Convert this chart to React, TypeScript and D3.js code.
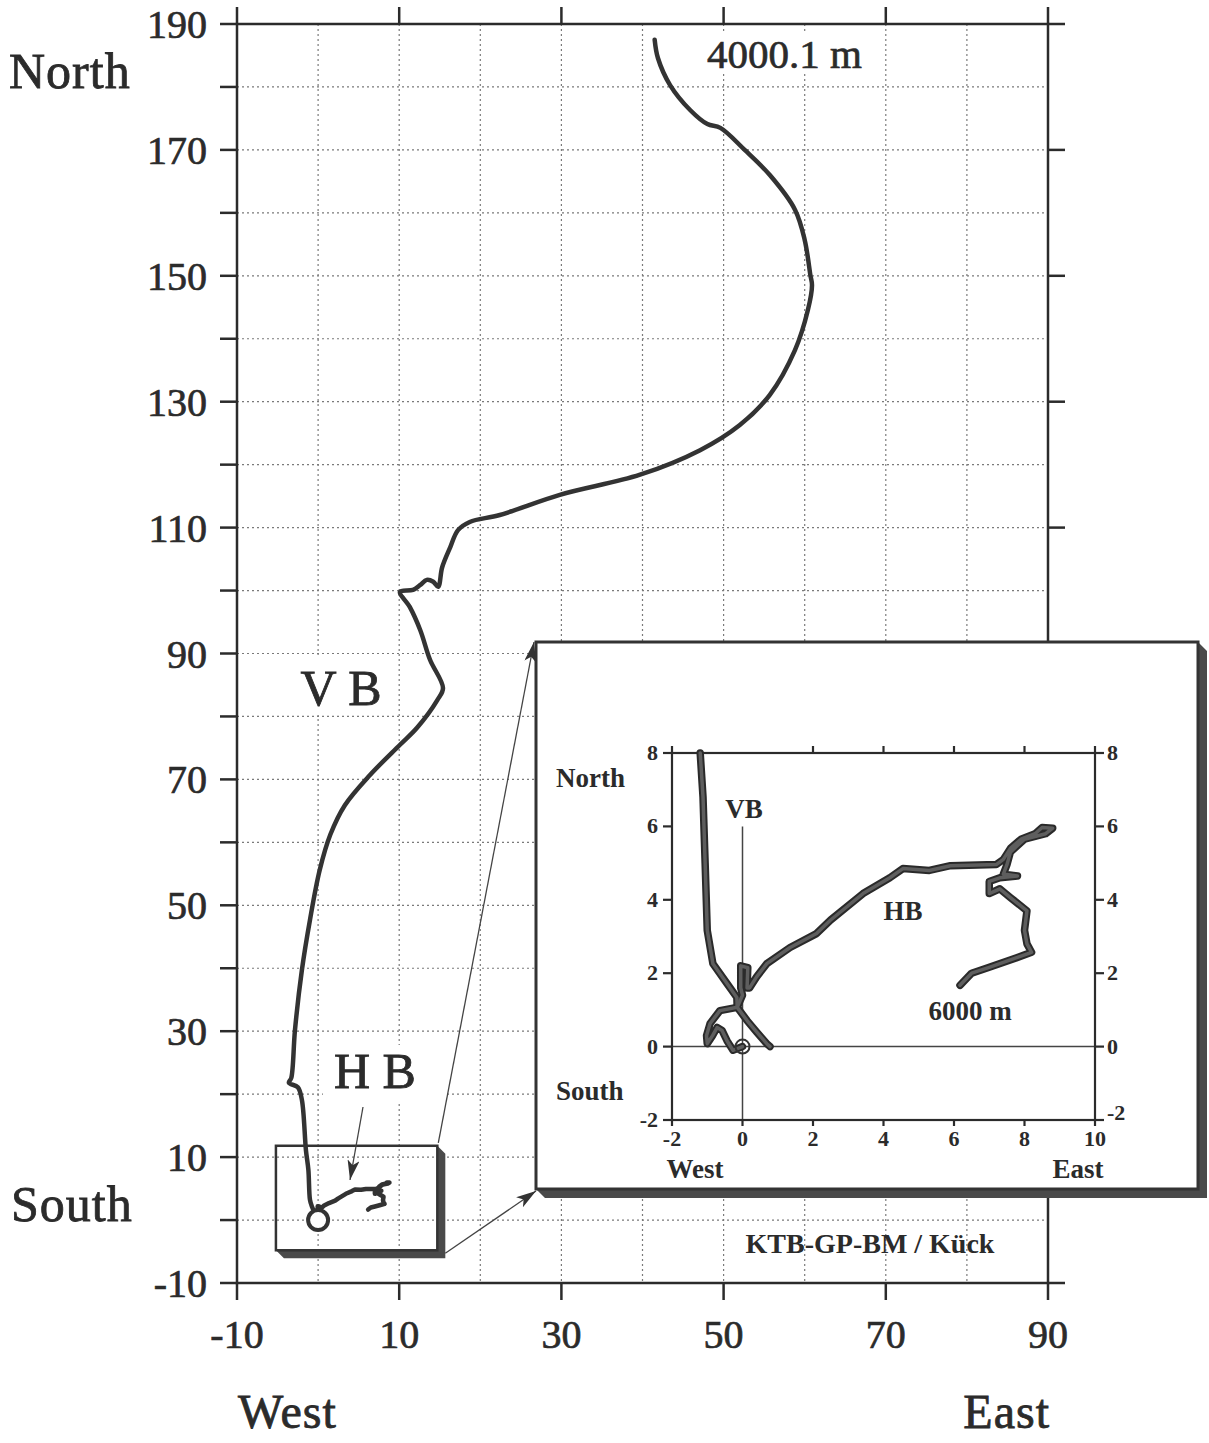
import React from 'react';
import * as d3 from 'd3';

// main plot: east offset (m) vs north offset (m)
const xLabels = [-10, 10, 30, 50, 70, 90];
const yLabels = [-10, 10, 30, 50, 70, 90, 110, 130, 150, 170, 190];
const yMinor = [0, 20, 40, 60, 80, 100, 120, 140, 160, 180];
const gridX = [0, 10, 20, 30, 40, 50, 60, 70, 80];
const gridY = [0, 10, 20, 30, 40, 50, 60, 70, 80, 90, 100, 110, 120, 130, 140, 150, 160, 170, 180];

// inset axes
const insetX = [-2, 0, 2, 4, 6, 8, 10];
const insetY = [-2, 0, 2, 4, 6, 8];

// VB trajectory down to 4000.1 m
const vbMain: [number, number][] = [
  [0, 0], [-0.75, 2.1], [-1, 3.2], [-1.2, 8], [-1.5, 11.1], [-2, 19.1], [-2.5, 21.1],
  [-3.6, 21.8], [-3.3, 22.6], [-2.85, 30.2], [-2, 39.7], [-1, 47.7], [0.2, 55.6],
  [1.5, 61.2], [3.3, 65.9], [6.4, 70.7], [10.1, 75.5], [12.2, 78.2], [14.7, 82.6],
  [15.4, 84.5], [13.8, 89], [12.6, 93.7], [11.3, 97.4], [10.1, 99.8], [11.7, 100.1],
  [12.6, 100.9], [13.4, 101.7], [14.2, 101.4], [14.8, 100.6], [15.3, 103.7],
  [16.3, 106.9], [17.25, 109.6], [18.7, 110.9], [22.4, 112], [29.8, 115.2],
  [39.7, 118.4], [47.1, 122.3], [52, 126.3], [55.7, 131.1], [58.8, 138.2],
  [60.4, 144.6], [60.9, 148.5], [60.7, 150.1], [60, 155.7], [58.8, 160.5],
  [55.7, 166], [52.6, 170], [49.6, 173.5], [48, 174.1], [45.9, 176.3],
  [43.4, 180.3], [41.9, 184.6], [41.5, 187.5],
];

// HB trajectory down to 6000 m
const hbPath: [number, number][] = [
  [0, 0], [-0.27, -0.1], [-0.44, 0.16], [-0.58, 0.44], [-0.72, 0.52], [-0.85, 0.3],
  [-1.0, 0.08], [-1.02, 0.3], [-0.92, 0.63], [-0.64, 0.98], [-0.15, 1.07], [0.0, 1.4],
  [-0.05, 1.6], [-0.05, 2.2], [0.15, 2.15], [0.13, 1.6], [0.2, 1.6], [0.4, 1.9],
  [0.69, 2.26], [1.35, 2.7], [2.1, 3.08], [2.5, 3.45], [3.42, 4.17], [4.18, 4.6],
  [4.55, 4.85], [5.3, 4.8], [5.9, 4.93], [7.2, 4.96], [7.4, 5.1], [7.6, 5.4],
  [7.9, 5.65], [8.3, 5.8], [8.5, 5.97], [8.8, 5.95], [8.6, 5.8], [8.0, 5.65],
  [7.6, 5.3], [7.5, 4.95], [7.4, 4.7], [7.8, 4.65], [7.3, 4.6], [7.0, 4.5],
  [7.0, 4.17], [7.3, 4.3], [7.6, 4.06], [8.07, 3.7], [8.0, 3.17], [8.07, 2.8],
  [8.2, 2.57], [7.8, 2.43], [7.0, 2.16], [6.5, 2.0], [6.17, 1.67],
];

// VB near the surface (inset)
const vbInset: [number, number][] = [
  [0.78, 0], [0.69, 0.08], [0.4, 0.4], [0.13, 0.71], [-0.15, 1.07], [-0.16, 1.34],
  [-0.44, 1.72], [-0.84, 2.26], [-1.0, 3.17], [-1.06, 5.0], [-1.12, 6.8], [-1.2, 8],
];

const serif = '"Liberation Serif", "Times New Roman", serif';
const ink = '#2b2b2b';

const App = () => {
  const x = d3.scaleLinear().domain([-10, 90]).range([237, 1048]);
  const y = d3.scaleLinear().domain([-10, 190]).range([1283, 24]);
  const ix = d3.scaleLinear().domain([-2, 10]).range([672, 1095]);
  const iy = d3.scaleLinear().domain([-2, 8]).range([1120, 753]);

  const smoothLine = d3.line<[number, number]>().x(d => x(d[0])).y(d => y(d[1]))
    .curve(d3.curveCatmullRom.alpha(0.5));
  const mainLine = d3.line<[number, number]>().x(d => x(d[0])).y(d => y(d[1]));
  const insetLine = d3.line<[number, number]>().x(d => ix(d[0])).y(d => iy(d[1]));

  // zoom box in main plot (data units) and inset frame (px)
  const zb = { x0: x(-5.2), x1: x(14.7), y0: y(11.8), y1: y(-4.8) };
  const ib = { x0: 536, x1: 1198, y0: 642, y1: 1189 };
  const sh = 9;

  const tk = 17;
  const itk = 9;

  return (
    <svg width={1209} height={1443} style={{ position: 'absolute', left: 0, top: 0, background: '#fff' }}
      fontFamily={serif}>
      <defs>
        <marker id="ah" viewBox="0 0 20 12" refX="20" refY="6" markerWidth="20" markerHeight="12"
          markerUnits="userSpaceOnUse" orient="auto">
          <path d="M0,0 L20,6 L0,12 L5,6 Z" fill="#333" />
        </marker>
      </defs>
      <rect width={1209} height={1443} fill="#fff" />

      {/* grid */}
      <g stroke="#7a7a7a" strokeWidth={1.2} strokeDasharray="2 3">
        {gridX.map(v => <line key={'gx' + v} x1={x(v)} x2={x(v)} y1={y(190)} y2={y(-10)} />)}
        {gridY.map(v => <line key={'gy' + v} x1={x(-10)} x2={x(90)} y1={y(v)} y2={y(v)} />)}
      </g>

      {/* label backgrounds */}
      <rect x={295} y={655} width={95} height={60} fill="#fff" />
      <rect x={323} y={1045} width={124} height={58} fill="#fff" />
      <rect x={700} y={34} width={175} height={40} fill="#fff" />

      {/* main frame and ticks */}
      <g stroke={ink} strokeWidth={2.5} fill="none">
        <rect x={x(-10)} y={y(190)} width={x(90) - x(-10)} height={y(-10) - y(190)} />
        {yLabels.map(v => <line key={'yl' + v} x1={x(-10) - tk} x2={x(-10)} y1={y(v)} y2={y(v)} />)}
        {yMinor.map(v => <line key={'ym' + v} x1={x(-10) - tk} x2={x(-10)} y1={y(v)} y2={y(v)} />)}
        {yLabels.map(v => <line key={'yr' + v} x1={x(90)} x2={x(90) + tk} y1={y(v)} y2={y(v)} />)}
        {xLabels.map(v => <line key={'xt' + v} x1={x(v)} x2={x(v)} y1={y(190)} y2={y(190) - tk} />)}
        {xLabels.map(v => <line key={'xb' + v} x1={x(v)} x2={x(v)} y1={y(-10)} y2={y(-10) + tk} />)}
      </g>

      <g fill={ink} stroke={ink} strokeWidth={0.7} fontSize={40}>
        {yLabels.map(v => (
          <text key={'ylt' + v} x={207} y={y(v) + 14} textAnchor="end">{v}</text>
        ))}
        {xLabels.map(v => (
          <text key={'xlt' + v} x={x(v)} y={1348} textAnchor="middle">{v}</text>
        ))}
      </g>
      <g fill={ink} stroke={ink} strokeWidth={0.8} fontSize={50}>
        <text x={9} y={88} letterSpacing={1}>North</text>
        <text x={11} y={1221} letterSpacing={1}>South</text>
        <text x={238} y={1428} fontSize={48} letterSpacing={1}>West</text>
        <text x={1050} y={1428} fontSize={48} textAnchor="end" letterSpacing={1}>East</text>
        <text x={341} y={705} textAnchor="middle">V B</text>
        <text x={375} y={1088} textAnchor="middle">H B</text>
      </g>
      <text x={707} y={68} fontSize={41} fill={ink} stroke={ink} strokeWidth={0.7}>4000.1 m</text>

      {/* trajectories */}
      <path d={smoothLine(vbMain) || ''} fill="none" stroke="#333" strokeWidth={4.5}
        strokeLinejoin="round" strokeLinecap="round" />
      <path d={mainLine(hbPath) || ''} fill="none" stroke="#333" strokeWidth={4.5}
        strokeLinejoin="round" strokeLinecap="round" />
      <circle cx={x(0)} cy={y(0)} r={10} fill="#fff" stroke="#333" strokeWidth={4} />

      {/* zoom box */}
      <path d={`M${zb.x1},${zb.y0} L${zb.x1 + 8},${zb.y0 + 8} L${zb.x1 + 8},${zb.y1 + 8} L${zb.x0 + 8},${zb.y1 + 8} L${zb.x0},${zb.y1} L${zb.x1},${zb.y1} Z`}
        fill="#4a4a4a" />
      <rect x={zb.x0} y={zb.y0} width={zb.x1 - zb.x0} height={zb.y1 - zb.y0} fill="none" stroke="#333" strokeWidth={2.5} />

      {/* arrows */}
      <g stroke="#444" strokeWidth={1.3} fill="none">
        <line x1={363} y1={1107} x2={350} y2={1180} markerEnd="url(#ah)" />
        <line x1={zb.x1 + 1} y1={zb.y0 - 3} x2={ib.x0 - 2} y2={ib.y0} markerEnd="url(#ah)" />
        <line x1={zb.x1 + 8} y1={zb.y1 + 3} x2={ib.x0} y2={ib.y1 + 2} markerEnd="url(#ah)" />
      </g>

      {/* inset frame */}
      <path d={`M${ib.x1},${ib.y0} L${ib.x1 + sh},${ib.y0 + sh} L${ib.x1 + sh},${ib.y1 + sh} L${ib.x0 + sh},${ib.y1 + sh} L${ib.x0},${ib.y1} L${ib.x1},${ib.y1} Z`}
        fill="#4a4a4a" />
      <rect x={ib.x0} y={ib.y0} width={ib.x1 - ib.x0} height={ib.y1 - ib.y0} fill="#fff" stroke="#333" strokeWidth={3} />

      <text x={870} y={1253} fontSize={28} fontWeight="bold" fill={ink} textAnchor="middle">KTB-GP-BM / Kück</text>

      {/* inset axes */}
      <g stroke="#444" strokeWidth={1.5}>
        <line x1={ix(-2)} x2={ix(10)} y1={iy(0)} y2={iy(0)} />
        <line x1={ix(0)} x2={ix(0)} y1={iy(6)} y2={iy(-2)} />
      </g>
      <g stroke={ink} strokeWidth={2.2} fill="none">
        <rect x={ix(-2)} y={iy(8)} width={ix(10) - ix(-2)} height={iy(-2) - iy(8)} />
        {insetY.map(v => <line key={'iyl' + v} x1={ix(-2) - itk} x2={ix(-2)} y1={iy(v)} y2={iy(v)} />)}
        {insetY.map(v => <line key={'iyr' + v} x1={ix(10)} x2={ix(10) + itk} y1={iy(v)} y2={iy(v)} />)}
        {insetX.filter(v => v !== 0).map(v => <line key={'ixt' + v} x1={ix(v)} x2={ix(v)} y1={iy(8)} y2={iy(8) - 7} />)}
        {insetX.map(v => <line key={'ixb' + v} x1={ix(v)} x2={ix(v)} y1={iy(-2)} y2={iy(-2) + 6} />)}
      </g>
      <g fill={ink} fontSize={22} fontWeight="bold">
        {insetY.map(v => (
          <text key={'iylt' + v} x={ix(-2) - 14} y={iy(v) + 7} textAnchor="end">{v}</text>
        ))}
        {insetY.map(v => (
          <text key={'iyrt' + v} x={ix(10) + 12} y={iy(v) + 7 - (v === -2 ? 7 : 0)}>{v}</text>
        ))}
        {insetX.map(v => (
          <text key={'ixlt' + v} x={ix(v)} y={1146} textAnchor="middle">{v}</text>
        ))}
      </g>
      <g fill={ink} fontSize={27} fontWeight="bold">
        <text x={556} y={787}>North</text>
        <text x={556} y={1100}>South</text>
        <text x={695} y={1178} textAnchor="middle">West</text>
        <text x={1078} y={1178} textAnchor="middle">East</text>
        <text x={903} y={920} textAnchor="middle">HB</text>
        <text x={970} y={1020} textAnchor="middle">6000  m</text>
      </g>
      <rect x={720} y={793} width={48} height={32} fill="#fff" />
      <text x={744} y={818} fontSize={27} fontWeight="bold" fill={ink} textAnchor="middle">VB</text>

      {/* inset trajectories */}
      <g fill="none" strokeLinejoin="round" strokeLinecap="round">
        <path d={insetLine(vbInset) || ''} stroke="#2a2a2a" strokeWidth={7.5} />
        <path d={insetLine(hbPath) || ''} stroke="#2a2a2a" strokeWidth={7.5} />
        <path d={insetLine(vbInset) || ''} stroke="#5e5e5e" strokeWidth={3.5} />
        <path d={insetLine(hbPath) || ''} stroke="#5e5e5e" strokeWidth={3.5} />
      </g>
      <circle cx={ix(0)} cy={iy(0)} r={7} fill="none" stroke="#333" strokeWidth={2} />
    </svg>
  );
};

export default App;
